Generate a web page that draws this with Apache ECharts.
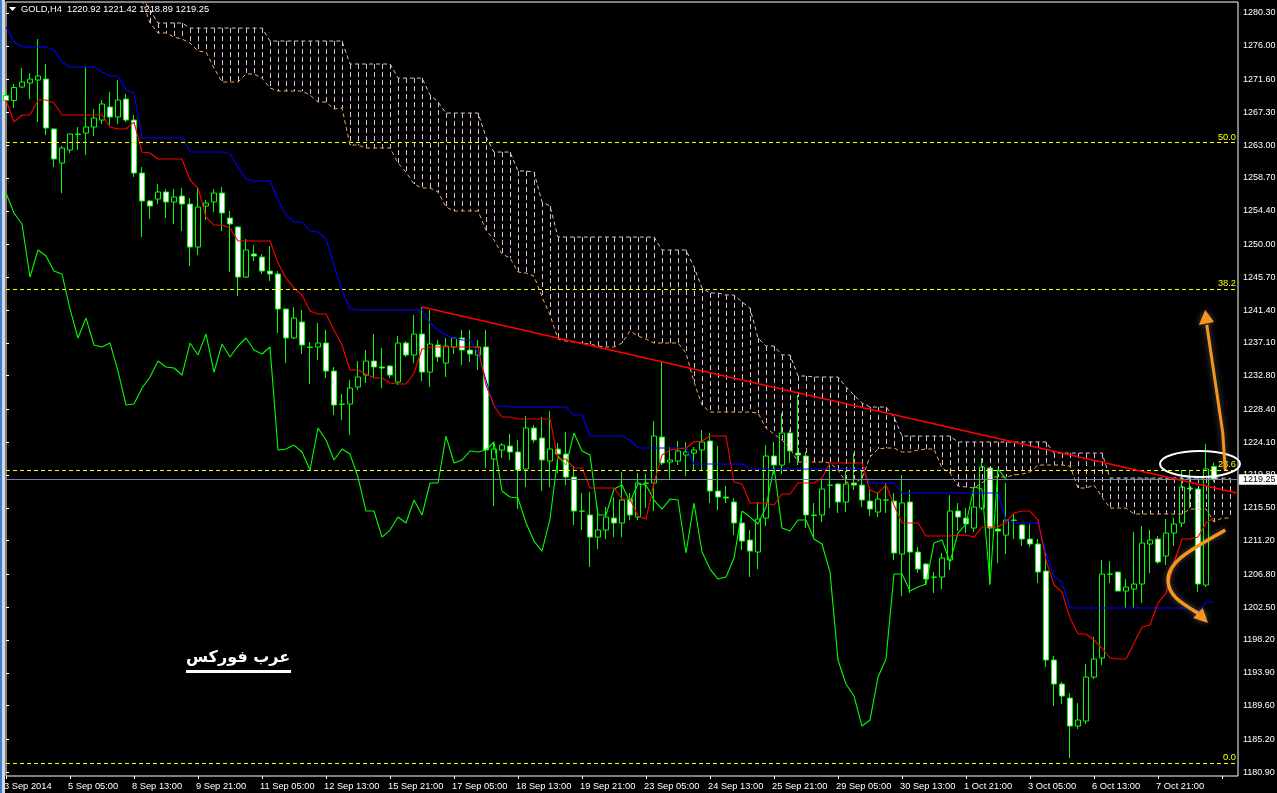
<!DOCTYPE html>
<html><head><meta charset="utf-8">
<style>html,body{margin:0;padding:0;background:#000;overflow:hidden}#c{width:1277px;height:793px}</style>
<script src="https://cdn.jsdelivr.net/npm/echarts@6/dist/echarts.min.js"></script>
</head><body><div id="c"></div>
<script>
const tickLabels=["3 Sep 2014","5 Sep 05:00","8 Sep 13:00","9 Sep 21:00","11 Sep 05:00","12 Sep 13:00","15 Sep 21:00","17 Sep 05:00","18 Sep 13:00","19 Sep 21:00","23 Sep 05:00","24 Sep 13:00","25 Sep 21:00","29 Sep 05:00","30 Sep 13:00","1 Oct 21:00","3 Oct 05:00","6 Oct 13:00","7 Oct 21:00"];
const priceTicks=[1280.30,1276.00,1271.60,1267.30,1263.00,1258.70,1254.40,1250.00,1245.70,1241.40,1237.10,1232.80,1228.40,1224.10,1219.80,1215.50,1211.20,1206.80,1202.50,1198.20,1193.90,1189.60,1185.20,1180.90];
const opens=[1269.49,1268.84,1270.61,1271.13,1271.52,1271.65,1265.11,1260.65,1262.36,1264.38,
1264.58,1265.37,1266.28,1267.99,1266.68,1269.03,1266.28,1259.34,1255.68,1255.94,
1256.86,1255.55,1256.33,1255.28,1249.65,1255.02,1255.55,1256.72,1253.45,1252.27,
1245.72,1248.74,1248.34,1246.51,1246.12,1241.53,1237.74,1239.83,1236.50,1236.56,
1237.08,1233.41,1229.05,1229.09,1231.32,1232.89,1234.72,1233.94,1234.07,1231.97,
1237.08,1235.51,1238.26,1233.28,1236.82,1234.46,1236.56,1237.74,1236.16,1235.51,
1236.56,1221.89,1223.07,1223.59,1222.81,1220.58,1225.95,1224.64,1221.63,1223.20,
1222.54,1219.53,1215.05,1214.56,1211.67,1212.59,1214.16,1213.51,1216.65,1214.29,
1218.70,1218.75,1224.77,1221.50,1221.63,1222.41,1222.67,1223.07,1224.25,1217.70,
1216.91,1216.26,1213.51,1211.28,1209.71,1214.16,1222.28,1221.10,1225.29,1222.67,
1222.28,1214.50,1214.56,1218.45,1218.61,1216.26,1218.75,1218.48,1216.39,1214.95,
1216.50,1216.39,1209.45,1216.26,1209.71,1208.14,1206.40,1206.44,1208.66,1215.08,
1214.16,1212.85,1215.47,1220.71,1212.72,1211.93,1213.85,1213.25,1211.41,1210.76,
1207.22,1195.57,1192.42,1190.59,1186.92,1187.58,1193.34,1195.83,1206.80,1207.09,
1204.60,1204.86,1205.52,1210.76,1211.41,1209.19,1212.20,1213.51,1218.09,1217.96,
1205.39,1220.92];
const closes=[1268.84,1270.54,1271.26,1271.65,1272.05,1265.24,1261.18,1262.62,1264.45,1264.45,
1265.37,1266.55,1268.38,1266.68,1268.90,1266.28,1259.34,1255.68,1255.02,1256.86,
1255.55,1256.20,1255.28,1249.65,1254.89,1255.41,1256.72,1254.11,1252.67,1245.72,
1249.26,1248.47,1246.51,1246.12,1241.53,1237.74,1240.35,1236.82,1236.56,1237.08,
1233.41,1228.96,1229.09,1231.19,1232.63,1234.72,1233.94,1233.81,1232.89,1237.08,
1235.51,1238.26,1233.28,1236.95,1235.25,1236.69,1237.74,1236.16,1235.64,1236.56,
1223.07,1223.20,1223.72,1222.81,1220.45,1225.95,1224.38,1221.76,1223.20,1222.54,
1219.53,1215.08,1215.08,1211.67,1212.59,1214.29,1213.51,1216.52,1214.56,1218.75,
1218.75,1224.90,1221.37,1221.76,1222.94,1222.81,1223.07,1224.12,1217.70,1216.91,
1216.78,1213.51,1211.15,1209.84,1214.03,1222.28,1221.10,1225.29,1222.94,1222.41,
1214.56,1214.56,1217.96,1218.48,1216.26,1218.61,1218.48,1216.52,1215.34,1216.65,
1216.52,1209.58,1216.13,1209.71,1207.48,1206.17,1206.44,1208.92,1215.08,1214.29,
1213.38,1215.60,1220.84,1212.85,1212.46,1213.90,1213.90,1211.41,1210.76,1207.09,
1195.57,1192.42,1190.85,1186.92,1187.71,1193.34,1195.70,1206.83,1206.83,1204.60,
1205.13,1205.52,1210.89,1211.28,1208.40,1212.20,1213.38,1218.22,1217.96,1205.52,
1220.58,1219.25];
const lows=[1268.77,1267.86,1270.50,1269.03,1266.02,1264.32,1260.13,1256.72,1261.96,1262.36,
1261.70,1264.19,1265.76,1265.63,1265.76,1266.02,1258.82,1250.96,1253.32,1255.28,
1253.45,1252.67,1251.75,1247.16,1248.60,1253.19,1254.24,1251.75,1246.38,1243.24,
1245.59,1247.82,1246.12,1245.20,1238.39,1234.46,1237.60,1235.64,1231.71,1234.85,
1232.50,1227.65,1227.00,1225.03,1230.93,1231.84,1232.50,1231.19,1232.50,1231.58,
1235.25,1234.46,1232.10,1231.32,1234.59,1232.63,1235.64,1234.20,1234.59,1233.55,
1220.71,1215.73,1222.02,1221.76,1215.34,1218.22,1223.98,1217.70,1218.22,1220.05,
1218.48,1213.25,1212.59,1207.75,1210.10,1211.41,1211.67,1211.67,1213.90,1213.90,
1215.47,1215.08,1221.10,1219.27,1221.10,1219.66,1220.45,1220.45,1216.13,1215.21,
1216.13,1211.93,1209.97,1206.44,1207.48,1213.12,1219.92,1219.92,1221.37,1221.10,
1212.85,1211.67,1213.64,1215.47,1214.82,1214.95,1217.83,1215.60,1214.43,1214.29,
1214.82,1208.66,1203.95,1204.34,1206.96,1205.39,1204.34,1204.86,1207.35,1212.46,
1212.20,1212.33,1215.21,1205.39,1208.27,1209.45,1211.41,1210.50,1210.36,1205.65,
1194.65,1189.54,1189.80,1182.73,1186.53,1187.19,1193.08,1194.91,1205.65,1204.60,
1202.38,1202.38,1203.03,1206.96,1208.14,1208.01,1210.50,1212.98,1215.47,1204.47,
1205.13,1218.89];
const highs=[1270.21,1271.00,1273.09,1272.44,1276.89,1273.62,1265.20,1262.88,1264.50,1265.37,
1273.23,1267.73,1268.90,1269.95,1271.52,1269.69,1266.94,1260.13,1255.81,1257.90,
1257.25,1257.25,1257.38,1256.07,1257.51,1255.81,1257.25,1257.51,1254.37,1252.40,
1250.70,1249.91,1248.74,1249.78,1246.51,1241.60,1241.79,1241.40,1237.21,1239.70,
1238.78,1233.94,1230.40,1232.23,1234.72,1236.16,1238.26,1236.43,1234.20,1238.00,
1237.34,1240.75,1241.79,1241.40,1237.47,1237.74,1237.87,1238.78,1238.78,1237.47,
1238.78,1224.12,1223.98,1225.16,1224.38,1227.52,1226.34,1227.39,1228.17,1223.98,
1225.42,1220.97,1217.44,1217.57,1215.60,1215.60,1216.91,1220.19,1217.44,1220.05,
1219.92,1226.87,1234.72,1223.46,1224.25,1224.12,1223.46,1225.69,1225.29,1223.59,
1218.35,1216.78,1214.69,1212.59,1216.26,1223.72,1224.12,1227.91,1225.69,1230.27,
1222.81,1216.13,1219.14,1221.10,1218.75,1220.32,1222.67,1220.45,1217.83,1217.57,
1218.75,1217.44,1219.79,1217.83,1210.36,1208.27,1207.09,1209.58,1217.18,1216.13,
1215.47,1218.22,1222.02,1220.80,1220.45,1218.75,1214.82,1213.38,1213.38,1211.41,
1209.58,1196.09,1192.69,1191.24,1189.93,1195.04,1198.58,1208.66,1208.53,1207.15,
1206.17,1212.33,1213.12,1212.59,1211.80,1214.03,1214.16,1220.45,1220.45,1218.00,
1223.85,1221.42];
const tenkan=[1268.90,1266.02,1266.94,1266.94,1268.90,1268.90,1268.51,1266.94,1266.94,1266.94,
1266.94,1266.94,1266.94,1265.37,1265.11,1265.11,1266.02,1262.09,1261.96,1261.18,
1261.18,1261.18,1261.18,1258.43,1257.38,1253.58,1252.53,1252.53,1252.14,1250.44,
1250.44,1250.44,1250.44,1250.44,1247.56,1245.59,1244.28,1243.37,1241.27,1240.88,
1240.88,1238.78,1236.82,1233.55,1233.55,1233.02,1232.50,1232.50,1231.84,1231.71,
1231.71,1233.15,1236.30,1236.56,1236.56,1236.56,1236.56,1236.56,1236.56,1236.56,
1231.58,1228.83,1227.39,1227.39,1227.13,1227.13,1227.13,1227.13,1227.13,1221.89,
1221.89,1220.71,1220.71,1218.09,1218.09,1218.09,1218.09,1216.65,1216.65,1214.42,
1214.03,1218.75,1222.41,1223.07,1223.20,1223.33,1224.12,1224.25,1224.90,1224.90,
1224.90,1218.88,1218.61,1216.13,1216.13,1216.13,1215.87,1217.31,1217.31,1218.75,
1218.75,1218.75,1219.40,1221.37,1221.37,1221.37,1221.37,1221.37,1217.83,1217.44,
1218.48,1215.87,1213.51,1213.51,1213.51,1211.80,1211.80,1211.80,1211.80,1211.93,
1211.93,1211.67,1212.98,1212.98,1212.98,1213.64,1214.82,1215.08,1215.08,1213.90,
1208.66,1205.39,1204.47,1201.07,1198.97,1198.97,1198.19,1197.14,1195.83,1195.70,
1195.70,1197.79,1199.89,1200.15,1203.03,1204.34,1208.27,1211.41,1211.41,1211.67,
1213.51,1214.16];
const kijun=[1278.46,1276.50,1275.84,1275.84,1275.84,1275.84,1275.45,1273.88,1273.23,1273.23,
1273.23,1273.23,1272.57,1272.05,1272.05,1270.21,1269.82,1263.93,1263.93,1263.93,
1263.93,1263.93,1263.93,1262.09,1262.09,1262.09,1262.09,1262.09,1261.83,1260.13,
1258.56,1258.30,1258.30,1258.30,1255.81,1253.84,1252.93,1252.93,1251.75,1251.62,
1250.70,1247.30,1244.02,1241.53,1241.40,1241.40,1241.40,1241.40,1241.40,1241.40,
1241.40,1241.40,1241.40,1239.70,1238.78,1238.13,1237.74,1237.47,1237.47,1235.77,
1232.23,1228.83,1228.83,1228.70,1228.70,1228.70,1228.70,1228.70,1228.70,1228.70,
1228.70,1227.65,1227.65,1224.90,1224.90,1224.90,1224.90,1224.90,1224.38,1223.33,
1223.33,1223.33,1223.33,1223.33,1223.33,1223.33,1221.23,1221.23,1221.23,1221.23,
1221.23,1221.23,1221.23,1220.58,1220.58,1220.58,1220.58,1220.58,1220.58,1220.58,
1220.58,1220.58,1220.58,1220.58,1220.58,1220.58,1220.58,1220.58,1218.75,1218.75,
1218.75,1218.75,1217.44,1217.44,1217.44,1217.44,1217.44,1217.44,1217.44,1217.44,
1217.44,1217.44,1217.44,1217.44,1217.44,1213.90,1213.51,1213.51,1213.51,1213.51,
1209.58,1206.44,1205.78,1202.38,1202.38,1202.38,1202.38,1202.38,1202.38,1202.38,
1202.38,1202.38,1202.38,1202.38,1202.38,1202.38,1202.38,1202.38,1202.38,1201.72,
1203.16,1203.16];
const chikou=closes.slice(26);
const kumoOffset=17;
const senkouA=[1282.00,1278.99,1277.68,
1277.68,1277.15,1276.89,1276.37,1275.32,1275.19,1273.09,1271.26,1271.26,1271.26,
1272.31,1272.31,1271.78,1270.48,1270.08,1270.08,1270.08,1270.08,1269.56,1268.64,
1268.64,1267.73,1267.86,1263.01,1263.01,1262.62,1262.62,1262.62,1262.62,1260.65,
1259.47,1257.90,1257.38,1257.38,1256.86,1254.89,1254.37,1254.37,1254.37,1254.37,
1251.88,1250.57,1248.74,1248.21,1246.38,1246.25,1245.85,1243.11,1240.75,1237.60,
1237.34,1237.21,1237.08,1236.95,1236.69,1236.56,1236.56,1237.08,1238.65,1238.00,
1237.60,1237.08,1237.08,1237.08,1237.08,1235.77,1231.97,1228.96,1228.04,1228.04,
1228.04,1228.04,1228.04,1228.04,1227.91,1225.95,1225.16,1224.38,1223.33,1221.50,
1221.50,1221.50,1221.50,1221.37,1220.45,1218.88,1218.61,1219.40,1222.15,1223.20,
1223.33,1223.33,1222.81,1222.81,1223.07,1223.20,1223.20,1220.71,1220.05,1218.35,
1218.22,1218.09,1218.75,1219.53,1219.53,1219.53,1219.79,1219.92,1220.19,1221.10,
1221.10,1221.10,1221.10,1220.97,1218.09,1218.09,1218.48,1216.91,1215.47,1215.47,
1215.47,1214.69,1214.69,1214.69,1214.69,1214.69,1214.69,1214.69,1215.34,1215.34,
1215.34,1213.64,1214.16,1214.16];
const senkouB=[1282.30,1280.69,1278.99,
1278.99,1278.99,1278.99,1278.33,1278.33,1278.33,1278.33,1278.33,1278.33,1278.33,
1278.33,1278.33,1278.33,1276.63,1276.63,1276.63,1276.63,1276.63,1276.63,1276.63,
1276.63,1276.63,1276.63,1273.62,1273.62,1273.62,1273.62,1273.62,1273.62,1271.78,
1271.78,1271.78,1271.78,1269.56,1268.64,1267.20,1267.20,1267.20,1267.20,1267.20,
1264.06,1262.09,1262.09,1262.09,1259.61,1259.61,1259.47,1255.55,1255.02,1250.96,
1250.96,1250.96,1250.96,1250.96,1250.96,1250.96,1250.96,1250.96,1250.96,1250.96,
1250.96,1250.96,1249.26,1249.26,1249.26,1249.26,1247.03,1244.28,1243.63,1243.63,
1243.37,1243.37,1242.45,1241.66,1237.74,1236.69,1236.69,1235.51,1235.51,1232.76,
1232.76,1232.63,1232.63,1232.63,1232.63,1231.32,1230.27,1229.22,1228.70,1228.70,
1228.70,1227.39,1224.90,1224.90,1224.90,1224.90,1224.90,1224.90,1224.90,1224.12,
1224.12,1224.12,1224.12,1224.12,1224.12,1224.12,1224.12,1224.12,1224.12,1224.12,
1224.12,1222.67,1222.67,1222.67,1222.67,1222.67,1222.67,1222.67,1219.40,1219.40,
1219.40,1219.40,1219.40,1219.40,1219.40,1219.40,1219.40,1219.40,1219.40,1219.40,
1219.40,1219.40,1219.40,1219.40];
const trendLine=[[52,1241.79],[154,1217.40]];
const fibLevels=[1263.34,1244.17,1220.44,1182.08];
const fibLabels=["50.0","38.2","23.6","0.0"];
const lastPrice=1219.25;
const titleText="GOLD,H4  1220.92 1221.42 1218.89 1219.25";
const watermark="عرب فوركس";
const arrowUpShaft=[[152.4,1220.45],[152.1,1225.29],[150.1,1239.44]];
const arrowUpHead=[[149.9,1241.40],[149.1,1239.44],[151,1239.83]];
const curveTop=[[152.4,1212.59],[148.6,1210.23],[145.25,1208.66],[145.25,1206.04]];
const curveBottom=[[145.25,1206.04],[145.25,1203.82],[147.4,1202.77],[149,1201.72]];
const curveHead=[[150.25,1200.41],[148.4,1201.07],[149.6,1202.38]];
const ellipseBox=[[144.25,1222.94],[154.25,1219.53]];

const N=155;
const FONT='"Liberation Sans",sans-serif';
const FS=9.3, FSY=9;
const categories=Array.from({length:N},(_,i)=>i%8===0&&tickLabels[i/8]?tickLabels[i/8]:'');
const candles=opens.map((o,i)=>[o,closes[i],lows[i],highs[i]]);
const kumoRows=senkouA.map((a,k)=>[k+kumoOffset,a,senkouB[k]]);
const pad=Array(kumoOffset).fill(null);
const line=(name,data,color,extra)=>Object.assign({name,type:'line',data,symbol:'none',showSymbol:false,silent:true,animation:false,z:5,lineStyle:{color,width:1.1}},extra||{});

const chart=echarts.init(document.getElementById('c'),null,{renderer:'canvas'});
chart.setOption({
 animation:false,backgroundColor:'#000',
 grid:{left:6,right:39,top:2,bottom:17,outerBoundsMode:'none',show:true,borderColor:'#fff',borderWidth:1,backgroundColor:'#000'},
 xAxis:[{type:'category',data:categories,boundaryGap:false,
   axisLine:{show:false},
   axisTick:{show:true,interval:7,length:3,lineStyle:{color:'#fff'}},
   axisLabel:{show:true,interval:7,color:'#fff',fontFamily:FONT,fontSize:FS,align:'left',margin:6,padding:[0,0,0,-2],hideOverlap:false},
   splitLine:{show:false}},
  {type:'value',min:0,max:154,show:false,splitLine:{show:false}}],
 yAxis:[{type:'value',position:'right',min:1180.38,max:1281.74,scale:true,
   axisLine:{show:false},splitLine:{show:false},
   axisTick:{show:true,length:3,customValues:priceTicks,lineStyle:{color:'#fff'}},
   axisLabel:{show:true,customValues:priceTicks,color:'#fff',fontFamily:FONT,fontSize:FSY,margin:5,align:'left',padding:[2,0,0,0],formatter:v=>v.toFixed(2)}}],
 graphic:[
  {type:'rect',shape:{x:0,y:0,width:2,height:793},style:{fill:'#3f7fd0'},silent:true},
  {type:'rect',shape:{x:2,y:0,width:3,height:793},style:{fill:'#d4d8dc'},silent:true},
  {type:'polygon',shape:{points:[[9,7],[16,7],[12.5,11]]},style:{fill:'#fff'},silent:true,z:20},
  {type:'text',x:21,y:5,style:{text:titleText,fill:'#fff',font:FS+'px '+FONT,textVerticalAlign:'top'},silent:true,z:20},
  {type:'text',x:186,y:650,style:{text:watermark,fill:'#fff',font:'bold 16px "DejaVu Sans"',direction:'rtl'},silent:true,z:20},
  {type:'rect',shape:{x:186,y:670,width:105,height:3},style:{fill:'#fff'},silent:true,z:20}
 ],
 series:[
  {name:'Kumo',type:'custom',xAxisIndex:1,yAxisIndex:0,data:kumoRows,silent:true,z:3,
   renderItem:(p,api)=>{const a=api.coord([api.value(0),api.value(1)]),b=api.coord([api.value(0),api.value(2)]);const x=Math.round(a[0])+0.5;
     return {type:'line',shape:{x1:x,y1:b[1],x2:x,y2:a[1]},style:{stroke:'#d8bfd8',lineWidth:1,lineDash:[5,3]}};}},
  {name:'GOLD',type:'candlestick',data:candles,barWidth:5,silent:true,z:2,
   itemStyle:{color:'#000',color0:'#fff',borderColor:'#00ff00',borderColor0:'#00ff00',borderWidth:1}},
  line('Senkou A',pad.concat(senkouA),'#f4a460',{lineStyle:{color:'#f4a460',width:1,type:[4,3]},z:4}),
  line('Senkou B',pad.concat(senkouB),'#d8bfd8',{lineStyle:{color:'#d8bfd8',width:1,type:[4,3]},z:4}),
  line('Chikou',chikou,'#00ff00'),
  line('Kijun',kijun,'#0000ff'),
  line('Tenkan',tenkan,'#ff0000',{markLine:{silent:true,symbol:'none',animation:false,z:6,
    data:fibLevels.map((v,i)=>({yAxis:v,name:fibLabels[i],lineStyle:{color:'#ffff00',width:1,type:[4,3]},
        label:{show:true,position:'insideEndTop',distance:[2,1],formatter:fibLabels[i],color:'#ffff00',fontFamily:FONT,fontSize:FS}}))
      .concat([{yAxis:lastPrice,lineStyle:{color:'#778899',width:1,type:'solid'},label:{show:false}}])}}),
  {name:'Trend',type:'line',xAxisIndex:1,yAxisIndex:0,data:trendLine,symbol:'none',silent:true,z:7,lineStyle:{color:'#ff0000',width:1.5}},
  {name:'Marks',type:'custom',xAxisIndex:1,yAxisIndex:0,data:[[0]],silent:true,z:9,clip:false,
   renderItem:(p,api)=>{
     const c=q=>api.coord(q), orange='#f7941d', glow={shadowBlur:6,shadowColor:'rgba(255,255,255,0.35)'};
     const eA=c(ellipseBox[0]),eB=c(ellipseBox[1]);
     const tag=c([154,lastPrice]);
     const cv=(s)=>{const v=s.map(c);return {type:'bezierCurve',shape:{x1:v[0][0],y1:v[0][1],cpx1:v[1][0],cpy1:v[1][1],cpx2:v[2][0],cpy2:v[2][1],x2:v[3][0],y2:v[3][1]},style:Object.assign({stroke:orange,fill:null,lineWidth:3.5},glow)};};
     return {type:'group',children:[
       {type:'ellipse',shape:{cx:(eA[0]+eB[0])/2,cy:(eA[1]+eB[1])/2,rx:(eB[0]-eA[0])/2,ry:(eB[1]-eA[1])/2},style:{stroke:'#fff',fill:null,lineWidth:2}},
       {type:'polyline',shape:{points:arrowUpShaft.map(c)},style:Object.assign({stroke:orange,fill:null,lineWidth:3},glow)},
       {type:'polygon',shape:{points:arrowUpHead.map(c)},style:Object.assign({fill:orange},glow)},
       cv(curveTop),cv(curveBottom),
       {type:'polygon',shape:{points:curveHead.map(c)},style:Object.assign({fill:orange},glow)},
       {type:'rect',shape:{x:tag[0]+1,y:tag[1]-5,width:39,height:10.5},style:{fill:'#fff'}},
       {type:'text',x:tag[0]+5,y:tag[1]+0.5,style:{text:lastPrice.toFixed(2),fill:'#000',font:FSY+'px '+FONT,textVerticalAlign:'middle'}}
     ]};
   }}
 ]
});
</script></body></html>
